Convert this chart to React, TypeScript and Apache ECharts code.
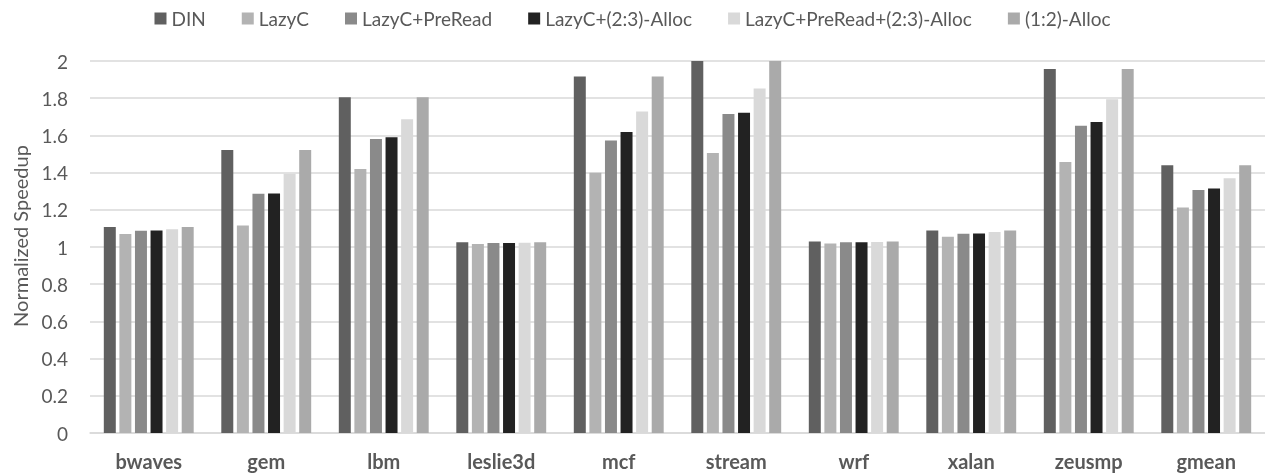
import React, { useEffect, useRef } from "react";
import * as echarts from "echarts";

const categories = ["bwaves", "gem", "lbm", "leslie3d", "mcf", "stream", "wrf", "xalan", "zeusmp", "gmean"];
const seriesNames = ["DIN", "LazyC", "LazyC+PreRead", "LazyC+(2:3)-Alloc", "LazyC+PreRead+(2:3)-Alloc", "(1:2)-Alloc"];
const din = [1.107, 1.522, 1.805, 1.026, 1.916, 2.0, 1.03, 1.089, 1.957, 1.439];
const lazyC = [1.07, 1.116, 1.419, 1.016, 1.399, 1.505, 1.019, 1.055, 1.457, 1.213];
const lazyCPreRead = [1.087, 1.286, 1.581, 1.021, 1.572, 1.715, 1.025, 1.071, 1.652, 1.306];
const lazyC23 = [1.089, 1.288, 1.59, 1.021, 1.618, 1.722, 1.025, 1.073, 1.672, 1.315];
const lazyCPreRead23 = [1.096, 1.394, 1.687, 1.023, 1.728, 1.852, 1.027, 1.08, 1.794, 1.369];
const alloc12 = [1.107, 1.522, 1.805, 1.026, 1.916, 2.0, 1.03, 1.089, 1.957, 1.439];
const colors = ["#606060", "#b3b3b3", "#8a8a8a", "#222222", "#d9d9d9", "#aaaaaa"];

export default function App() {
  const ref = useRef<HTMLDivElement>(null);
  useEffect(() => {
    if (!ref.current) return;
    const chart = echarts.init(ref.current, null, { renderer: "svg" });
    const data = [din, lazyC, lazyCPreRead, lazyC23, lazyCPreRead23, alloc12];
    const font = "Lato, 'Open Sans', sans-serif";
    chart.setOption({
      animation: false,
      color: colors,
      textStyle: { fontFamily: font },
      legend: {
        top: 4,
        left: "center",
        itemWidth: 12,
        itemHeight: 12,
        itemGap: 36,
        icon: "rect",
        textStyle: { fontSize: 19, color: "#595959", fontFamily: font },
        data: seriesNames,
      },
      grid: { left: 90, right: 0, top: 61, bottom: 41 },
      xAxis: {
        type: "category",
        data: categories,
        axisLine: { lineStyle: { color: "#d9d9d9", width: 1.5 } },
        axisTick: { show: false },
        axisLabel: { fontSize: 20, fontWeight: "bold", color: "#595959", margin: 18, fontFamily: font },
      },
      yAxis: {
        type: "value",
        min: 0,
        max: 2,
        interval: 0.2,
        name: "Normalized Speedup",
        nameLocation: "middle",
        nameGap: 60,
        nameTextStyle: { fontSize: 20, color: "#595959", fontFamily: font, padding: [0, 0, 0, 22] },
        axisLine: { show: false },
        axisTick: { show: false },
        axisLabel: { fontSize: 19, color: "#595959", margin: 22, fontFamily: font },
        splitLine: { lineStyle: { color: "#d9d9d9", width: 1.5 } },
      },
      series: seriesNames.map((name, i) => ({
        name,
        type: "bar",
        data: data[i],
        barGap: "30%",
        barCategoryGap: "23.5%",
        itemStyle: { color: colors[i] },
      })),
    });
    return () => chart.dispose();
  }, []);
  return <div ref={ref} style={{ position: "fixed", left: 0, top: 0, width: 1265, height: 474 }} />;
}
